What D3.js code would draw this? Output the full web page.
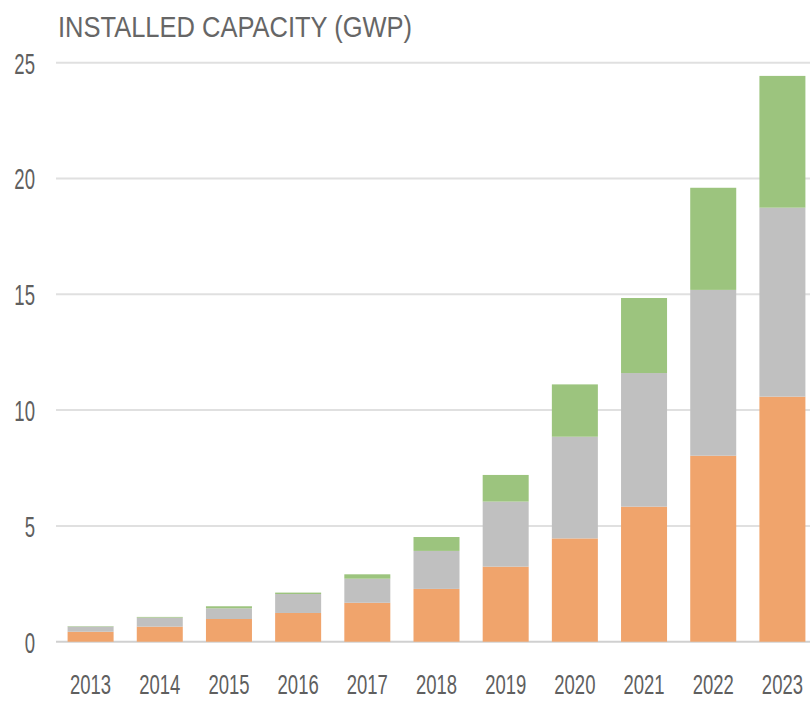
<!DOCTYPE html>
<html>
<head>
<meta charset="utf-8">
<script src="https://cdn.jsdelivr.net/npm/d3@7"></script>
<style>
  body { margin: 0; background: #fff; }
</style>
</head>
<body>
<div class="chart"></div>
<script>
// DATA
var years = ['2013', '2014', '2015', '2016', '2017', '2018', '2019', '2020', '2021', '2022', '2023'];
var orangeValues = [0.43, 0.65, 0.98, 1.24, 1.68, 2.28, 3.24, 4.46, 5.83, 8.03, 10.58];
var grayValues = [0.22, 0.39, 0.46, 0.82, 1.04, 1.64, 2.81, 4.39, 5.77, 7.16, 8.16];
var greenValues = [0.02, 0.03, 0.09, 0.06, 0.19, 0.60, 1.15, 2.26, 3.24, 4.41, 5.69];
var yTicks = [0, 5, 10, 15, 20, 25];
var title = 'INSTALLED CAPACITY (GWP)';

// BOARD
var width = 810, height = 701;
var svg = d3.select('.chart').append('svg')
  .attr('width', width)
  .attr('height', height);

var x = d3.scaleBand()
  .domain(years)
  .range([56, 817])
  .paddingInner(0.335)
  .paddingOuter(0.1675);

var y = d3.scaleLinear()
  .domain([0, 25])
  .range([641.7, 62.7]);

// build rows for the stack
var rows = years.map(function (yr, i) {
  return {year: yr, orange: orangeValues[i], gray: grayValues[i], green: greenValues[i]};
});
var keys = ['orange', 'gray', 'green'];
var colors = {orange: '#f0a46c', gray: '#c0c0c0', green: '#9cc47e'};
var stacked = d3.stack().keys(keys)(rows);

// GRIDLINES
svg.append('g').selectAll('line')
  .data(yTicks)
  .enter()
  .append('line')
  .attr('x1', 56)
  .attr('x2', width)
  .attr('y1', function (d) { return y(d); })
  .attr('y2', function (d) { return y(d); })
  .attr('stroke', function (d) { return d === 0 ? '#d0d0d0' : '#e0e0e0'; })
  .attr('stroke-width', 2);

// BARS
svg.append('g').selectAll('g')
  .data(stacked)
  .enter()
  .append('g')
  .attr('fill', function (d) { return colors[d.key]; })
  .selectAll('rect')
  .data(function (d) { return d; })
  .enter()
  .append('rect')
  .attr('x', function (d) { return x(d.data.year); })
  .attr('width', x.bandwidth())
  .attr('y', function (d) { return y(d[1]); })
  .attr('height', function (d) { return y(d[0]) - y(d[1]); });

// AXES (text only)
var fontFamily = '"Liberation Sans", Arial, sans-serif';

var yAxis = svg.append('g')
  .attr('transform', 'translate(35,0)')
  .call(d3.axisLeft(y).tickValues(yTicks).tickSize(0).tickPadding(0));
yAxis.select('.domain').remove();
yAxis.selectAll('text')
  .attr('font-family', fontFamily)
  .attr('font-size', 29)
  .attr('fill', '#5f5f5f')
  .attr('dy', '0.36em')
  .attr('transform', 'scale(0.64,1)');

// x labels sit a little higher so their box stays inside the picture
var xAxis = svg.append('g')
  .attr('transform', 'translate(0,' + y(0) + ')')
  .call(d3.axisBottom(x).tickSize(0).tickPadding(0));
xAxis.select('.domain').remove();
xAxis.selectAll('text')
  .attr('font-family', fontFamily)
  .attr('font-size', 28)
  .attr('fill', '#5f5f5f')
  .attr('y', 52.5)
  .attr('dy', 0)
  .attr('transform', 'scale(0.66,1)');

// TITLE
svg.append('text')
  .attr('x', 58)
  .attr('y', 37)
  .attr('font-family', fontFamily)
  .attr('font-size', 30)
  .attr('fill', '#666666')
  .attr('textLength', 354)
  .attr('lengthAdjust', 'spacingAndGlyphs')
  .text(title);
</script>
</body>
</html>
